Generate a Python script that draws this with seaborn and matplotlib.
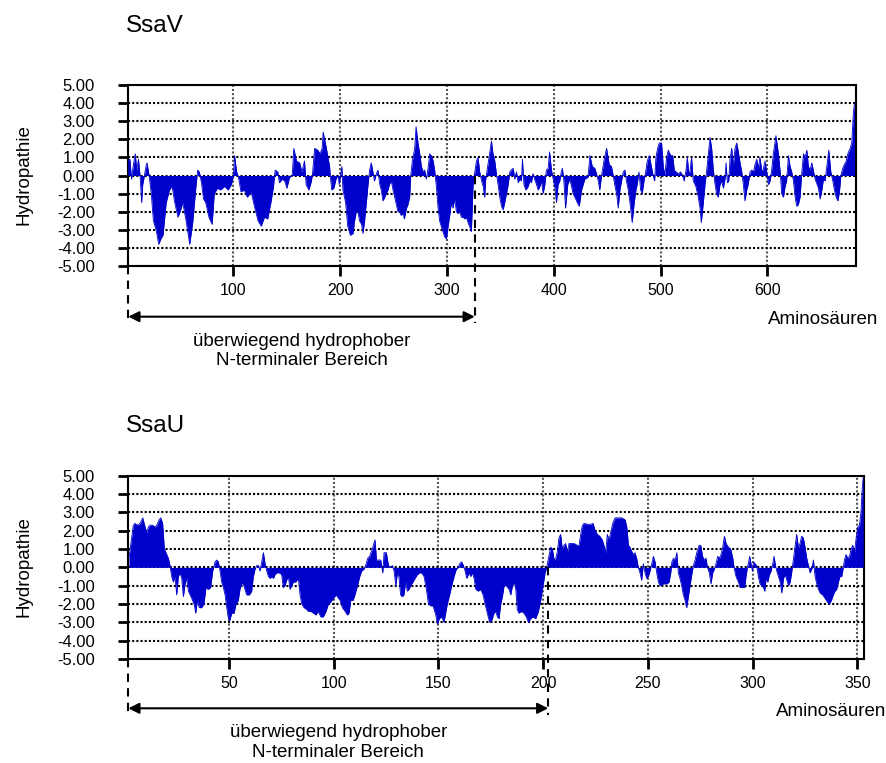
import numpy as np
import pandas as pd
import matplotlib
matplotlib.use("Agg")
import matplotlib.pyplot as plt
import matplotlib.transforms as mtransforms
from matplotlib.lines import Line2D
import seaborn as sns

# ---------------- data ----------------
ssav_res = [1, 3, 4.5, 6, 8, 9.4, 11, 12.5, 14, 15, 16.6, 18, 19, 21, 23, 25, 27.5, 30, 32, 34,
            37, 40, 42.5, 45, 48, 50, 52.5, 55.6, 59, 62, 65, 66.5, 68, 70, 72, 74, 77, 80, 82, 85,
            88, 91.6, 95, 98, 100, 101, 103, 105, 107, 110, 113, 116.5, 120, 123, 126, 129, 132, 135, 137.5, 139,
            141.5, 143, 145.6, 148, 150, 152.5, 155, 156.5, 159, 162, 164, 166.5, 168, 170.6, 173, 174, 176, 179, 181, 183,
            184, 187, 190, 190.6, 192, 194, 196, 198, 199, 201.5,
            202.5, 205, 207, 209.4, 212, 213.4, 215, 216.6, 218, 220, 221.3, 222.8, 224.4, 226, 227.5, 229, 230.6, 232, 233.8, 235.3,
            237, 238.4, 240, 241.6, 243, 244.7, 246, 247.8, 249.4, 251, 252.5, 254, 255.6, 257, 258.8, 260, 262, 263.4, 265, 266,
            267.5, 269.7, 271, 272.8, 274.4, 276, 277.5, 279, 280.6, 282, 283.8, 285.3, 287, 288.4, 290, 291.6, 293, 295.6, 297.8, 299.4,
            301, 302.5, 304, 305.6, 307, 308.8, 310.3, 312, 313.4, 315, 316.6, 318, 319.7, 321, 322.8, 324.4, 326, 327.5, 329, 330.6,
            332, 333.8, 335.3, 336, 337.5, 339, 341.6, 343, 344.7, 346, 347.8, 349.4, 351, 352.5, 354, 355.6, 357, 358.8, 360, 362,
            363.4, 365, 366.6, 368, 369.7, 370.6, 372, 373.8, 376, 377.5, 379, 380.6, 382, 383.8, 385.3, 387, 388.4, 390, 391.6, 393,
            394.7, 396, 397.8, 399.4, 401, 402.5, 404, 405.6, 407, 408, 409.4, 411, 413, 415, 416.6, 418, 419.7, 422, 423.8, 426,
            429, 432, 433.8, 436, 438.4, 440, 441.6, 443,
            444.7, 446.9, 449.4, 451.9, 454, 455.6, 457, 458.8, 460.3, 461.9, 463.4, 465, 466.6, 468, 469.7, 471.3, 473.4, 475.3, 476.9, 478,
            479.7, 481.3, 482.8, 484.4, 486, 487.5, 489.4, 491, 493, 494.4, 495.6, 497.2, 498.8, 500.9, 502.5, 504, 505.6, 507.2, 509.4, 511.3,
            512.8, 514.4, 516.6, 518.8, 520.6, 522, 523.8, 525, 526.3, 527.5, 529, 530.6, 533, 535.3, 536.9, 538.1, 540, 541.6, 543, 544.7,
            546.3, 547.8, 549.4, 551, 552.5, 554, 555.6, 557, 558.8, 560.3, 561.3, 562.5, 563.8, 565, 566.6, 568, 569.7, 571.3, 572.8, 574.4,
            576, 577.5, 579, 580.6, 582, 583.8, 585.3, 587, 588.4, 590, 591.6, 593, 594.7, 596, 597.8, 599.4, 601, 602.5, 604, 605.6,
            608, 610.3, 612, 613.4, 615, 616.6, 618, 619.7, 621.3, 622.8, 624.4, 626, 627.5, 629, 630.6, 632, 633.8, 635.3, 637, 638.4,
            640, 641.6, 643, 644.7, 646, 647.8, 649.4, 651, 652.5, 654, 655.6, 657.5, 659.4, 661.3, 662.8, 664.4, 666, 667.5, 668.8, 670.6,
            672, 673.8, 675.3, 677.5, 679, 680.6, 681.6]
ssav_hyd = [0.8, 0.9, -0.2, 0.5, 1.2, 0.3, 0.9, 0.0, -1.5, -0.5, 0.0, 0.5, 0.7, 0.0, -1.0, -2.5, -3.0, -3.8, -3.5, -3.3,
            -1.5, -0.8, -0.6, -1.5, -2.3, -2.0, -1.5, -2.5, -3.8, -2.5, -0.5, 0.3, 0.2, -0.4, -1.3, -1.5, -2.3, -2.7, -1.0, -0.7,
            -0.8, -0.6, -0.8, -0.5, 0.0, 1.1, 0.2, -0.2, -0.9, -0.8, -1.2, -0.9, -1.8, -2.5, -2.8, -2.3, -2.4, -1.5, -0.6, 0.3,
            0.2, -0.4, -0.2, -0.3, -0.7, -0.1, 0.0, 1.5, 0.8, 0.7, 0.2, 0.8, -0.5, -0.8, -0.3, 0.1, 1.5, 1.4, 1.2, 1.5,
            2.4, 1.5, 0.5, 0.0, -0.8, -0.7, -0.2, 0.0, -0.5, 0.5,
            -0.8, -1.5, -2.8, -3.3, -3.2, -2.5, -2.0, -2.0, -2.5, -2.7, -3.2, -2.5, -1.5, -0.5, 0.3, 0.7, 0.2, -0.3, 0.1, 0.3,
            -0.5, -0.8, -1.4, -1.2, -1.0, -0.8, -0.5, -0.3, -0.8, -1.2, -1.6, -2.0, -2.0, -2.2, -2.1, -2.4, -1.8, -1.6, -1.2, 0.0,
            0.8, 1.5, 2.7, 1.8, 1.2, 0.5, 0.2, 0.3, -0.2, 0.3, 1.2, 1.1, 0.8, 0.3, -0.6, -1.8, -2.5, -3.0, -3.4, -3.5,
            -2.8, -2.2, -1.5, -1.8, -1.3, -2.0, -2.1, -2.0, -2.3, -2.3, -2.4, -2.3, -2.6, -2.8, -3.1, -0.5, 0.2, 0.8, 1.0, 0.2,
            -0.2, -0.6, -1.2, -0.3, 0.3, 0.9, 1.9, 1.2, 0.8, 0.2, -0.5, -1.2, -1.7, -1.9, -1.5, -1.0, -0.6, 0.2, 0.3, 0.4,
            -0.2, 0.2, -0.4, -0.2, -0.3, 0.9, -0.5, -0.8, -0.6, -0.3, -0.4, 0.1, -0.2, -0.5, -0.8, -0.6, -0.3, -1.0, -0.5, 0.3,
            0.4, 1.3, 0.3, -0.2, -0.7, -1.5, -0.5, -0.3, 0.2, 0.4, -0.3, -1.8, -0.5, -0.2, -0.6, -1.0, -1.2, -1.5, -1.7, -0.8,
            -0.2, -0.1, 1.1, 0.5, 0.4, 0.1, -0.3, -0.8,
            0.0, 0.8, 1.5, 0.6, 0.5, 0.0, -0.5, -1.0, -1.8, -0.8, -0.3, 0.2, 0.3, -0.3, -0.8, -1.5, -2.6, -1.5, -0.8, -0.5,
            0.2, -0.8, -1.0, -0.3, 0.2, 0.8, 1.1, 0.6, 0.0, -0.3, 1.0, 1.5, 1.8, 1.8, 0.5, 0.0, 1.0, 1.4, 1.1, 1.1,
            0.3, 0.2, 0.1, 0.2, 0.0, -0.3, 0.3, 1.0, 0.2, 0.2, 1.0, -0.3, -0.6, -1.2, -1.8, -2.6, -1.5, -0.5, 0.2, 1.2,
            2.1, 1.5, 0.3, -0.5, -1.0, -1.2, -0.5, -0.3, -0.7, -0.2, 0.7, -0.4, -0.3, 0.9, 1.5, 0.5, 1.5, 1.8, 1.3, 0.7,
            0.2, -0.5, -1.4, -0.8, -0.5, 0.2, 0.3, 0.2, 0.6, 0.9, 0.4, 1.0, 0.3, 0.3, 0.8, 0.2, -0.5, -0.3, 0.3, 1.2,
            2.2, 1.2, 0.2, -1.0, -1.2, -0.6, -0.3, 1.1, 0.5, 0.2, -0.3, -1.2, -1.7, -1.6, -1.2, 0.0, 1.2, 1.0, 1.4, 0.5,
            0.3, 0.7, 0.3, -0.2, -0.4, -0.7, -1.3, -0.8, -0.2, -0.3, 0.5, 1.4, 0.2, -0.3, -0.8, -1.2, -1.4, -0.9, 0.0, 0.4,
            0.6, 0.8, 1.2, 1.5, 1.8, 3.5, 4.0]

ssau_res = [2.2, 3.0, 4.3, 5.1, 6.2, 7.5, 8.8, 9.9, 10.7, 11.5, 12.3, 13.5, 14.7, 15.5, 16.6, 17.4, 18.3, 19.1, 19.9, 21.0,
            21.8, 22.6, 23.4, 24.2, 25.0, 25.8, 26.6, 27.4, 28.2, 29.0, 29.8, 30.6, 31.4, 32.2, 33.3, 34.1, 34.9, 35.8, 36.9, 38.0,
            39.0, 40.1, 41.2, 42.2, 43.3, 44.1, 44.9, 45.7, 46.5, 47.3, 48.1, 48.9, 49.7, 50.3, 51.3, 52.4, 53.3, 54.4, 55.2, 56.0,
            56.8, 57.6, 58.4, 59.7, 60.8, 61.6, 62.4, 63.2, 64.0, 64.8, 65.6, 66.4, 67.2, 68.0, 68.8, 69.6, 70.4, 71.2, 71.9, 72.8,
            74.3, 75.1, 75.9, 76.7, 77.5, 78.3, 79.1, 79.9, 80.7, 81.8, 83.1, 83.9, 84.7, 85.8, 87.1, 87.9, 89.0, 90.3, 91.5, 92.6,
            93.8, 95.0, 96.3, 97.4, 98.5, 99.8, 101.1, 101.7, 103.0,
            104.1, 105.4, 106.5, 107.3, 108.1, 109.2, 110.1, 111.3, 112.4, 113.3, 114.4, 115.2, 116.2, 117.1, 118.1, 118.9, 119.7, 120.4, 121.3, 122.4,
            123.4, 124.0, 125.1, 126.1, 127.2, 128.0, 128.8, 129.6, 130.4, 131.1, 131.9, 132.7, 133.5, 134.3, 135.1, 135.9, 136.7, 137.8, 138.8, 139.9,
            141.0, 142.0, 143.1, 144.2, 145.2, 146.3, 147.4, 148.7, 149.5, 150.4, 151.5, 152.6, 153.4, 154.2, 155.3, 156.3, 157.4, 158.5, 159.5, 160.1,
            161.1, 161.9, 162.7, 163.5, 164.6, 165.4, 166.2, 167.0, 167.8, 169.0, 170.1, 171.3, 172.2, 173.3, 174.4, 175.4, 176.5, 177.3, 178.1, 178.9,
            179.7, 180.5, 181.3, 182.4, 183.7, 184.5, 185.3, 186.1, 186.9, 187.6, 188.4, 189.7, 190.8, 191.9, 192.9, 194.0, 195.1, 196.4, 197.7, 198.8,
            199.9, 200.9, 201.7, 202.5, 203.6, 204.4, 205.2, 206.0, 206.8, 207.5, 208.3, 209.1, 209.9, 210.7, 211.5, 212.3, 213.1, 214.7, 216.3, 217.1,
            217.9, 218.7, 219.5, 221.1, 222.7, 223.8, 224.8, 225.9, 227.0, 228.2, 229.0, 229.8, 230.6, 231.1,
            231.6, 232.2, 233.2, 234.3, 235.9, 237.5, 239.1, 239.9, 240.7, 241.4, 242.2, 243.0, 243.8, 244.6, 245.4, 246.2, 247.0, 247.8, 248.6, 249.4,
            250.2, 251.0, 251.8, 252.6, 253.4, 254.2, 255.0, 255.8, 257.4, 259.0, 260.1, 260.9, 261.4, 262.2, 263.0, 263.8, 264.5, 265.3, 266.1, 266.9,
            267.7, 268.5, 269.3, 270.1, 270.9, 271.7, 272.5, 273.3, 274.4, 275.2, 276.1, 276.9, 277.7, 278.4, 279.3, 280.1, 280.9, 281.7, 282.5, 283.3,
            284.1, 284.9, 285.7, 286.5, 287.3, 288.4, 289.5, 290.5, 291.1, 291.8, 292.4, 293.2, 294.0, 295.2, 296.2, 296.8, 297.5, 298.1, 298.6, 299.2,
            299.9, 300.4, 301.1, 301.9, 302.7, 303.5, 304.3, 305.1, 305.8, 306.4, 307.2, 308.0, 308.8, 309.6, 310.2, 310.9, 311.5, 312.3, 313.1, 313.9,
            314.7, 315.5, 316.3, 317.1, 317.9, 318.6, 319.4, 320.2, 321.0, 321.8, 322.6, 323.4, 324.2, 325.0, 325.8, 326.6, 327.4, 328.2, 329.0, 329.8,
            330.6, 331.4, 332.2, 333.4, 334.6, 335.7, 336.6, 337.6, 338.5, 339.3, 340.1, 340.9, 341.7, 342.5, 343.0, 343.8, 344.6, 345.4, 346.2, 347.0,
            347.8, 348.6, 349.4, 350.2, 351.0, 351.7, 352.3, 352.8]
ssau_hyd = [0.5, 1.2, 2.3, 2.4, 2.3, 2.4, 2.7, 2.2, 1.9, 2.2, 2.3, 2.3, 2.2, 2.3, 2.6, 2.7, 2.4, 1.0, 0.8, 0.5,
            0.1, -0.5, -0.8, -0.5, -1.5, -0.5, -0.3, -0.6, -1.6, -0.9, -0.6, -1.3, -1.5, -1.7, -2.0, -2.5, -1.8, -2.2, -2.2, -2.0,
            -1.1, -1.2, -1.1, -0.2, 0.3, 0.4, 0.3, -0.2, -0.8, -1.1, -1.5, -2.2, -2.8, -2.9, -2.5, -2.5, -2.0, -1.8, -1.2, -0.9,
            -0.9, -1.2, -1.5, -1.5, -1.3, -0.5, -0.1, 0.1, 0.1, -0.2, 0.3, 0.8, 0.2, -0.2, -0.5, -0.6, -0.5, -0.6, -0.4, -0.3,
            -0.3, -0.4, -1.1, -1.0, -0.7, -0.5, -1.2, -1.0, -0.8, -0.8, -0.6, -1.5, -2.0, -2.2, -2.3, -2.4, -2.4, -2.5, -2.6, -2.4,
            -2.7, -2.7, -2.4, -2.0, -1.9, -1.7, -1.5, -1.6, -1.8,
            -2.2, -2.4, -2.6, -2.5, -1.8, -1.8, -1.5, -1.0, -0.5, -0.2, -0.1, 0.1, 0.5, 0.6, 0.9, 1.2, 1.5, 0.4, 0.4, 0.4,
            -0.3, 0.8, 0.8, 0.1, 0.0, 0.1, -0.2, -1.0, -0.3, -0.5, -1.5, -1.6, -1.5, -0.8, -1.3, -1.2, -1.0, -0.8, -0.6, -0.4,
            -0.3, -0.3, -0.5, -1.2, -2.0, -2.1, -2.1, -2.6, -3.1, -2.8, -2.7, -3.0, -2.5, -2.0, -1.5, -1.0, -0.5, -0.1, 0.0, 0.2,
            0.3, 0.1, -0.2, -0.6, -0.3, -0.5, -0.3, -0.6, -1.2, -1.3, -1.2, -1.5, -2.0, -2.5, -3.0, -2.9, -2.5, -2.4, -2.7, -2.8,
            -2.0, -1.6, -1.0, -1.0, -1.2, -1.5, -1.0, -0.8, -1.2, -2.3, -2.5, -2.4, -2.5, -2.7, -3.0, -2.8, -2.7, -2.8, -2.4, -1.8,
            -1.0, -0.3, 0.0, 0.5, 1.1, 1.0, 0.4, 0.5, 0.9, 1.6, 1.8, 1.0, 1.2, 1.3, 0.8, 1.3, 1.3, 1.3, 1.2, 1.2,
            1.8, 2.3, 2.4, 2.35, 2.35, 2.4, 2.0, 1.8, 1.7, 1.5, 1.2, 0.8, 1.8, 1.6,
            1.6, 1.9, 2.4, 2.7, 2.7, 2.7, 2.6, 2.2, 1.2, 1.1, 0.9, 0.7, 0.8, 0.5, 0.0, -0.3, -0.7, 0.2, -0.3, -0.6,
            -0.5, -0.2, 0.2, 0.6, 0.3, -0.3, -0.8, -1.0, -0.9, -0.9, -0.8, -0.3, 0.3, 0.5, 0.4, 0.8, -0.3, -0.6, -1.0, -1.5,
            -1.8, -2.2, -1.6, -1.0, -0.4, 0.1, 0.4, 0.8, 1.2, 1.2, 0.6, 0.4, 0.5, 0.0, -0.3, -0.9, -0.3, -0.1, 0.2, 0.6,
            0.5, 0.7, 1.1, 1.7, 1.3, 1.1, 1.0, 0.5, 0.0, -0.4, -0.6, -0.8, -1.1, -1.1, -1.1, -0.5, 0.0, 0.3, 0.6, 0.2,
            -0.2, 0.3, 0.2, 0.1, -0.5, -0.9, -1.0, -1.1, -1.3, -0.6, -0.8, -0.4, -0.2, 0.2, 0.6, 0.1, -0.2, -0.5, -0.8, -1.4,
            -0.6, -0.4, -0.7, -1.0, -0.8, -0.3, 0.4, 1.1, 1.8, 1.1, 1.3, 1.7, 1.6, 1.1, 0.5, 0.1, -0.3, -0.1, 0.4, -0.5,
            -0.9, -1.2, -1.4, -1.5, -1.7, -1.9, -2.0, -1.8, -1.5, -1.3, -1.2, -0.8, -0.5, -0.5, -0.2, 0.4, 0.7, 0.5, 0.6, 1.0,
            1.2, 0.8, 1.6, 2.2, 2.3, 3.0, 4.3, 4.9]

ssav_ticks = [100, 200, 300, 400, 500, 600]
ssau_ticks = [50, 100, 150, 200, 250, 300, 350]
y_ticks = [-5, -4, -3, -2, -1, 0, 1, 2, 3, 4, 5]
ssav_nterm_end = 326
ssau_nterm_end = 202.4

titles = ["SsaV", "SsaU"]
x_label = "Aminosäuren"
y_label = "Hydropathie"
note = "überwiegend hydrophober\nN-terminaler Bereich"

# ---------------- style ----------------
sns.set_theme(style="white")
plt.rcParams["font.family"] = ["Liberation Sans", "DejaVu Sans"]
plt.rcParams["text.color"] = "black"
plt.rcParams["xtick.color"] = "black"
plt.rcParams["ytick.color"] = "black"
plt.rcParams["xtick.labelcolor"] = "black"
plt.rcParams["ytick.labelcolor"] = "black"
BLUE = "#0000CC"

W, H = 887, 763
fig = plt.figure(figsize=(W / 100, H / 100), dpi=100)
fig.patch.set_facecolor("white")

ax1 = fig.add_axes([128.3 / W, 1 - 266 / H, (856 - 128.3) / W, (266 - 85) / H])
ax2 = fig.add_axes([128.3 / W, 1 - 659 / H, (864.3 - 128.3) / W, (659 - 475.7) / H])

panels = [
    (ax1, ssav_res, ssav_hyd, ssav_ticks, (1.5, 683), ssav_nterm_end,
     dict(arrow=-0.280, dash=-0.315, text=-0.470)),
    (ax2, ssau_res, ssau_hyd, ssau_ticks, (1.9, 353.3), ssau_nterm_end,
     dict(arrow=-0.269, dash=-0.305, text=-0.456)),
]

for ax, res, hyd, xt, xl, nend, pos in panels:
    df = pd.DataFrame({"res": res, "hyd": hyd})
    ax.fill_between(df["res"], 0, df["hyd"], color=BLUE, linewidth=0, interpolate=True, zorder=3)
    sns.lineplot(data=df, x="res", y="hyd", ax=ax, color=BLUE, linewidth=0.6,
                 estimator=None, sort=False, zorder=3)
    ax.set_xlim(*xl)
    ax.set_ylim(-5, 5)
    ax.set_xticks(xt)
    ax.set_yticks(y_ticks)
    ax.set_yticklabels([f"{v:.2f}" for v in y_ticks])
    ax.set_xlabel("")
    ax.set_ylabel("")
    ax.set_axisbelow(True)
    ax.grid(axis="y", color="black", linestyle=(0, (1, 1)), linewidth=1.5)
    ax.grid(axis="x", color="#555555", linestyle=(0, (1, 1)), linewidth=1.5)
    for s in ax.spines.values():
        s.set_visible(True)
        s.set_color("black")
        s.set_linewidth(1.5)
    ax.tick_params(axis="y", direction="out", length=7, width=2, labelsize=12, pad=17,
                   left=True, colors="black")
    ax.tick_params(axis="x", direction="out", length=7, width=2, labelsize=11.5, pad=5,
                   bottom=True, colors="black")

    trans = mtransforms.blended_transform_factory(ax.transData, ax.transAxes)
    x0 = xl[0]
    # dashed delimiters
    ax.add_line(Line2D([x0, x0], [0, pos["dash"]], transform=trans, color="black",
                       linestyle=(0, (4, 3)), linewidth=1.5, clip_on=False))
    ax.add_line(Line2D([nend, nend], [0.5, pos["dash"]], transform=trans, color="black",
                       linestyle=(0, (4, 3)), linewidth=1.5, clip_on=False, zorder=4))
    ax.annotate("", xy=(x0, pos["arrow"]), xytext=(nend, pos["arrow"]), xycoords=trans,
                textcoords=trans, annotation_clip=False,
                arrowprops=dict(arrowstyle="<|-|>", color="black", lw=1.5,
                                mutation_scale=16, shrinkA=0, shrinkB=0))
    ax.text((x0 + nend) / 2, pos["text"], note, transform=trans, ha="center", va="center",
            fontsize=13.5, color="black", linespacing=1.2)

# titles, axis labels
fig.text(126 / W, 1 - 26 / H, titles[0], fontsize=17.5, ha="left", va="center", color="black")
fig.text(126 / W, 1 - 426 / H, titles[1], fontsize=17.5, ha="left", va="center", color="black")
fig.text(24 / W, 1 - 175 / H, y_label, fontsize=13.5, rotation=90, ha="center", va="center", color="black")
fig.text(24 / W, 1 - 567 / H, y_label, fontsize=13.5, rotation=90, ha="center", va="center", color="black")
fig.text(878 / W, 1 - 320 / H, x_label, fontsize=13.5, ha="right", va="center", color="black")
fig.text(886 / W, 1 - 712 / H, x_label, fontsize=13.5, ha="right", va="center", color="black")

fig.savefig("out.png", dpi=100)
